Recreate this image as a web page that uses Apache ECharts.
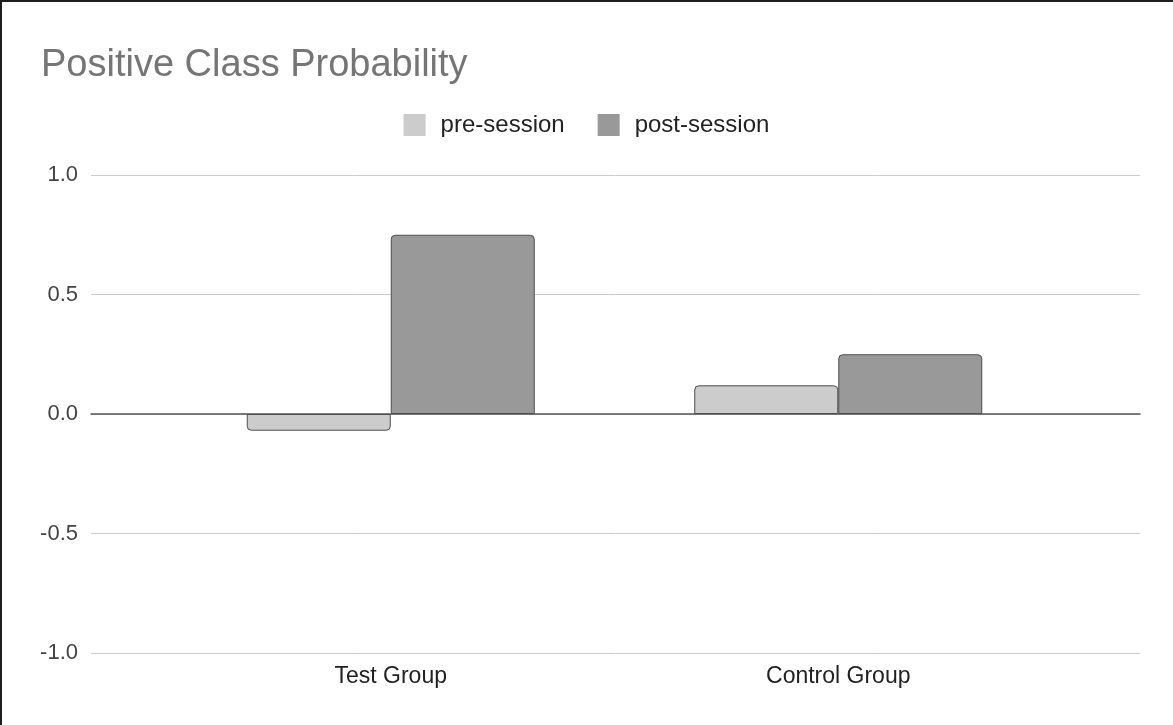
<!DOCTYPE html>
<html>
<head>
<meta charset="utf-8">
<script src="https://cdn.jsdelivr.net/npm/echarts@6/dist/echarts.min.js"></script>
<style>
html,body{margin:0;padding:0;background:#fff;}
#frame{position:absolute;left:0;top:0;width:1173px;height:725px;box-sizing:border-box;border-top:2px solid #1e1e1e;border-left:2px solid #1e1e1e;}
#chart{position:absolute;left:0;top:0;width:1173px;height:725px;}
</style>
</head>
<body>
<div id="chart"></div>
<div id="frame"></div>
<script>
const titleText = 'Positive Class Probability';
const categories = ['Test Group', 'Control Group'];
const seriesNames = ['pre-session', 'post-session'];
const preValues = [-0.07, 0.12];
const postValues = [0.75, 0.25];
const yMin = -1, yMax = 1, yInterval = 0.5;

const chart = echarts.init(document.getElementById('chart'), null, {renderer: 'canvas'});
const font = 'Arial, "Liberation Sans", sans-serif';

function toData(arr) {
  return arr.map(v => ({value: v, itemStyle: {borderRadius: v < 0 ? [0, 0, 4, 4] : [4, 4, 0, 0]}}));
}

chart.setOption({
  animation: false,
  backgroundColor: '#ffffff',
  title: {
    text: titleText,
    left: 36,
    top: 42,
    textStyle: {fontFamily: font, fontSize: 38, fontWeight: 'normal', color: '#757575'}
  },
  legend: {
    data: seriesNames,
    top: 108,
    left: 'center',
    icon: 'rect',
    itemWidth: 22,
    itemHeight: 22,
    itemGap: 33,
    itemStyle: {borderWidth: 0},
    textStyle: {fontFamily: font, fontSize: 24, color: '#222222', padding: [0, 0, 0, 10]}
  },
  grid: [
    {left: 91, right: 33, top: 175, bottom: 72},
    {left: 167, width: 895, top: 175, bottom: 72}
  ],
  xAxis: [
    {
      gridIndex: 0, type: 'value', min: 0, max: 1,
      axisLine: {show: true, onZero: true, lineStyle: {color: '#555555', width: 1.5}},
      axisTick: {show: false}, axisLabel: {show: false}, splitLine: {show: false}
    },
    {
      gridIndex: 1, type: 'category', data: categories,
      axisLine: {show: false}, axisTick: {show: false},
      axisLabel: {margin: 12, fontFamily: font, fontSize: 23, color: '#222222'}
    }
  ],
  yAxis: [
    {
      gridIndex: 0, type: 'value', min: yMin, max: yMax, interval: yInterval,
      axisLine: {show: false}, axisTick: {show: false},
      axisLabel: {margin: 13, fontFamily: font, fontSize: 22, color: '#444444',
        formatter: v => v.toFixed(1)},
      splitLine: {lineStyle: {color: '#cccccc', width: 1}}
    },
    {
      gridIndex: 1, type: 'value', min: yMin, max: yMax, interval: yInterval,
      show: false, splitLine: {show: false}
    }
  ],
  series: [
    {
      name: seriesNames[0], type: 'bar', xAxisIndex: 1, yAxisIndex: 1,
      barWidth: 144, barGap: '0%',
      itemStyle: {color: '#cccccc', borderColor: '#4d4d4d', borderWidth: 1},
      data: toData(preValues)
    },
    {
      name: seriesNames[1], type: 'bar', xAxisIndex: 1, yAxisIndex: 1,
      barWidth: 144, barGap: '0%',
      itemStyle: {color: '#999999', borderColor: '#4d4d4d', borderWidth: 1},
      data: toData(postValues)
    }
  ]
});
</script>
</body>
</html>
